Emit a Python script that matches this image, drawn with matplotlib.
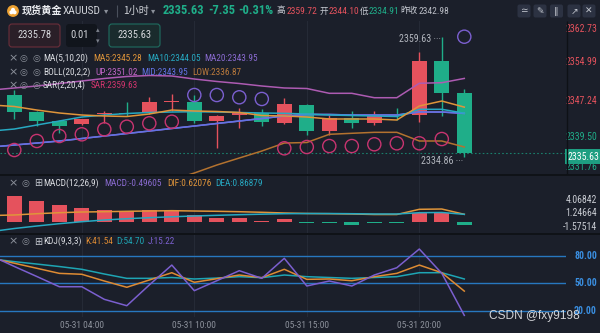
import numpy as np
import matplotlib
matplotlib.use('Agg')
import matplotlib.pyplot as plt
from matplotlib import font_manager as fm
from matplotlib.patches import FancyBboxPatch, Circle

# ---------------- data ----------------
times = ['01:00', '02:00', '03:00', '04:00', '06:00', '07:00', '08:00', '09:00', '10:00', '11:00',
         '12:00', '13:00', '14:00', '15:00', '16:00', '17:00', '18:00', '19:00', '20:00', '21:00', '22:00']
opens = [2347.60, 2344.03, 2342.23, 2341.55, 2343.60, 2343.95, 2343.82, 2346.15, 2346.22, 2342.30,
         2343.53, 2343.82, 2341.76, 2345.54, 2340.17, 2342.92, 2341.76, 2343.30, 2343.47, 2354.62, 2347.95]
highs = [2348.63, 2344.20, 2342.40, 2342.75, 2344.36, 2346.09, 2347.25, 2347.90, 2347.60, 2343.40,
         2344.86, 2344.65, 2346.92, 2345.70, 2343.47, 2344.30, 2344.36, 2344.86, 2356.54, 2359.63, 2348.78]
lows = [2342.58, 2341.26, 2339.70, 2341.40, 2341.76, 2343.33, 2343.60, 2344.20, 2341.90, 2336.60,
        2340.73, 2341.26, 2341.55, 2339.34, 2339.34, 2340.73, 2341.41, 2342.44, 2342.09, 2343.33, 2334.86]
closes = [2344.15, 2342.30, 2341.20, 2342.59, 2343.80, 2343.62, 2346.09, 2346.30, 2342.30, 2343.33,
          2343.82, 2342.09, 2345.68, 2340.23, 2342.79, 2341.88, 2343.47, 2343.20, 2354.62, 2348.08, 2335.63]

# indicator series start one bar before the first visible candle (off-screen on the left)
ma5 = [2345.54, 2345.23, 2344.50, 2343.89, 2343.47, 2343.27, 2343.16, 2343.68, 2344.50, 2344.30, 2344.20,
       2343.99, 2343.37, 2343.27, 2343.06, 2342.65, 2342.65, 2342.65, 2342.44, 2345.33, 2346.36, 2345.10]
ma10 = [2340.17, 2340.58, 2341.41, 2342.23, 2343.06, 2343.47, 2343.78, 2343.99, 2344.09, 2344.15, 2344.09,
        2343.99, 2343.89, 2343.82, 2343.68, 2343.47, 2343.37, 2343.27, 2343.16, 2344.65, 2344.65, 2343.85]
ma20 = [2336.87, 2337.28, 2337.69, 2338.11, 2338.62, 2339.14, 2339.65, 2340.17, 2340.69, 2341.20, 2341.72,
        2342.23, 2342.75, 2343.27, 2343.58, 2343.58, 2343.47, 2343.47, 2343.47, 2344.09, 2344.09, 2343.80]
boll_mid = ma20
boll_up = [2348.63, 2349.05, 2349.46, 2349.97, 2350.49, 2351.01, 2351.42, 2351.63, 2351.52, 2350.90, 2350.39,
           2349.97, 2349.46, 2349.05, 2348.94, 2347.95, 2347.95, 2347.04, 2347.04, 2350.02, 2350.14, 2351.02]
boll_low = [2321.39, 2322.21, 2323.04, 2323.86, 2324.90, 2325.93, 2327.17, 2328.61, 2330.06, 2331.50, 2333.15,
            2334.60, 2336.04, 2337.69, 2337.80, 2339.49, 2339.70, 2339.90, 2339.90, 2338.11, 2338.11, 2336.87]
sar = [2336.25, 2338.11, 2339.14, 2339.49, 2340.52, 2341.06, 2341.76, 2342.09, 2347.60, 2347.60, 2347.13,
       2346.78, 2336.60, 2336.87, 2337.07, 2337.07, 2337.43, 2337.63, 2337.63, 2338.52, 2359.63]

macd_hist = [5.43, 4.37, 3.52, 2.82, 2.47, 2.26, 2.47, 2.33, 1.35, 0.85, 0.71, 0.15, 0.50,
             -0.35, -0.35, -0.70, -0.35, -0.20, 1.90, 1.90, -0.70]
dif = [1.31, 1.42, 1.69, 1.90, 2.05, 2.11, 2.20, 2.26, 2.33, 2.26, 2.20, 2.11, 1.99, 1.84, 1.73, 1.69,
       1.63, 1.52, 1.52, 2.62, 2.68, 1.56]
dea = [-2.07, -1.44, -0.91, -0.42, 0.00, 0.36, 0.63, 0.85, 1.04, 1.21, 1.35, 1.48, 1.59, 1.69, 1.73, 1.73,
       1.69, 1.63, 1.63, 1.90, 1.95, 1.56]

kdj_k = [77.2, 71.8, 66.3, 60.8, 59.8, 52.5, 45.7, 53.6, 61.5, 51.1, 55.0, 59.0, 56.1, 65.2, 54.3, 54.7,
         52.8, 57.2, 60.8, 69.8, 61.5, 41.54]
kdj_d = [76.5, 73.5, 70.9, 68.2, 65.2, 60.1, 55.4, 55.4, 56.3, 54.7, 55.7, 57.2, 56.1, 59.0, 57.2, 56.3,
         55.4, 56.3, 57.2, 61.5, 61.5, 54.70]
kdj_j = [79.6, 68.3, 57.4, 46.3, 46.3, 32.6, 25.7, 48.2, 69.8, 42.0, 52.8, 63.7, 55.4, 77.1, 47.1, 52.5,
         47.1, 59.0, 66.9, 87.2, 60.8, 15.22]

prev_close = 2342.98
price_ticks = [2362.73, 2354.99, 2347.24, 2339.50, 2331.76]
macd_ticks = [4.06842, 1.24664, -1.57514]
kdj_levels = [80, 50, 20]
time_tick_hours = ['04:00', '10:00', '15:00', '20:00']
date_str = '05-31'

# ---------------- fonts / colours ----------------
avail = {f.name for f in fm.fontManager.ttflist}
NUM, NS = 'Liberation Sans', 0.84
for cand in ['Liberation Sans Narrow', 'Roboto Condensed']:
    if cand in avail:
        NUM, NS = cand, 1.0
        break
CJK = ['Noto Sans CJK SC', 'DejaVu Sans']
SYM = 'DejaVu Sans'

BG = '#1b1f2a'; SEP = '#0e1116'; GRID = '#252a36'
RED = '#e5525d'; GREEN = '#1fae89'
C_MA5 = '#e0953a'; C_MA10 = '#27a9c2'; C_MA20 = '#8a6bd1'
C_UP = '#ad5bb2'; C_MID = '#6272e4'; C_LOW = '#b3722f'
C_SAR_UP = '#c83470'; C_SAR_DN = '#7b5fd0'
C_K = '#de8b33'; C_D = '#1ea5b4'; C_J = '#7b5fcf'
C_LVL = '#2777bf'
TXT = '#dadce1'; GREY = '#8b909a'

W, H = 600, 333
fig = plt.figure(figsize=(W / 100, H / 100), dpi=100)
fig.patch.set_facecolor(BG)


def rect(x0, y0, x1, y1):
    return [x0 / W, 1 - y1 / H, (x1 - x0) / W, (y1 - y0) / H]


ax = fig.add_axes(rect(0, 21, 566, 174))
axm = fig.add_axes(rect(0, 175, 566, 233), sharex=ax)
axk = fig.add_axes(rect(0, 234, 566, 317), sharex=ax)
for a in (ax, axm, axk):
    a.set_facecolor(BG)
    for s in a.spines.values():
        s.set_visible(False)
    a.tick_params(left=False, right=False, bottom=False, top=False,
                  labelleft=False, labelbottom=False)

n = len(opens)
idx = np.arange(n)
lx = np.arange(-1, n)

ax.set_xlim(-0.636, 24.52)
ax.set_ylim(2331.30, 2362.87)
axm.set_ylim(-2.389, 9.873)
axk.set_ylim(13.45, 103.5)

tick_idx = [times.index(t) for t in time_tick_hours]
for a in (ax, axm, axk):
    for t in tick_idx:
        a.axvline(t, color=GRID, lw=0.8, zorder=0)
axk.set_xticks(tick_idx)
axk.set_xticklabels([f'{date_str} {times[t]}' for t in tick_idx])
axk.tick_params(axis='x', labelbottom=True, length=0, pad=3, labelsize=6.8 * NS, labelcolor=GREY)
for lab in axk.get_xticklabels():
    lab.set_family(NUM)

# ---------------- main pane ----------------
o = np.array(opens); c = np.array(closes); h = np.array(highs); l = np.array(lows)
cols = np.where(c >= o, RED, GREEN)
ax.axhline(closes[-1], color='#1a7f6c', lw=0.8, ls=(0, (1.5, 2)), zorder=1)
ax.vlines(idx, l, h, colors=cols, lw=1.0, zorder=2)
ax.bar(idx, np.maximum(np.abs(c - o), 0.2), bottom=np.minimum(o, c), width=0.66,
       color=cols, linewidth=0, zorder=3)
ax.plot(lx, boll_up, color=C_UP, lw=1.1, zorder=4)
ax.plot(lx, boll_low, color=C_LOW, lw=1.1, zorder=4)
ax.plot(lx, ma20, color=C_MA20, lw=1.1, zorder=4)
ax.plot(lx, boll_mid, color=C_MID, lw=1.1, zorder=4)
ax.plot(lx, ma10, color=C_MA10, lw=1.1, zorder=4)
ax.plot(lx, ma5, color=C_MA5, lw=1.1, zorder=4)
sar_a = np.array(sar)
ax.scatter(idx, sar_a, s=90, facecolors='none',
           edgecolors=np.where(sar_a > c, C_SAR_DN, C_SAR_UP), linewidths=1.0, zorder=5)

imax = int(np.argmax(h)); imin = int(np.argmin(l))
ax.annotate(f'{h[imax]:.2f} \u00b7\u00b7\u00b7', xy=(imax, h[imax]), xytext=(-1, -2.6),
            textcoords='offset pixels', ha='right', va='center', color='#b2b6be',
            fontsize=7.2 * NS, family=NUM, zorder=6)
ax.annotate(f'{l[imin]:.2f} \u00b7\u00b7\u00b7', xy=(imin, l[imin]), xytext=(-1, -4.3),
            textcoords='offset pixels', ha='right', va='center', color='#b2b6be',
            fontsize=7.2 * NS, family=NUM, zorder=6)


def rlabel(a, v, txt, color, dy, weight='normal', dx=31):
    a.annotate(txt, xy=(1, v), xycoords=('axes fraction', 'data'), xytext=(dx, dy),
               textcoords='offset pixels', ha='right', va='center', color=color,
               fontsize=7.0 * NS, family=NUM, fontweight=weight, annotation_clip=False)


price_lab_dy = [-7.6, -2.5, -4.0, -3.0, 4.5]
for v, dy in zip(price_ticks, price_lab_dy):
    rlabel(ax, v, f'{v:.2f}', RED if v > prev_close else GREEN, dy)
ax.annotate(f'{closes[-1]:.2f}', xy=(1, closes[-1]), xycoords=('axes fraction', 'data'),
            xytext=(17, -3.5), textcoords='offset pixels', ha='center', va='center',
            color='white', fontsize=7.0 * NS, family=NUM, annotation_clip=False, zorder=7,
            bbox=dict(boxstyle='square,pad=0.25', fc='#1e9f82', ec='none'))

# ---------------- MACD pane ----------------
mh = np.array(macd_hist)
axm.bar(idx, mh, width=0.66, color=np.where(mh >= 0, RED, GREEN), linewidth=0, zorder=2)
axm.plot(lx, dif, color=C_MA5, lw=1.1, zorder=3)
axm.plot(lx, dea, color=C_MA10, lw=1.1, zorder=3)
for v in macd_ticks:
    rlabel(axm, v, f'{v:.5f}', '#c9ccd3', 2.5)

# ---------------- KDJ pane ----------------
for lv in kdj_levels:
    axk.axhline(lv, color=C_LVL, lw=1.0, zorder=1)
    rlabel(axk, lv, f'{lv:.2f}', '#3a8ee0', 0, weight='bold')
axk.plot(lx, kdj_d, color=C_D, lw=1.1, zorder=3)
axk.plot(lx, kdj_k, color=C_K, lw=1.1, zorder=3)
axk.plot(lx, kdj_j, color=C_J, lw=1.1, zorder=3)

# ---------------- overlay: header, legends, separators ----------------
ov = fig.add_axes([0, 0, 1, 1], zorder=10)
ov.set_xlim(0, W); ov.set_ylim(H, 0); ov.axis('off')

ov.hlines([174.5, 233.5], 0, W, color=SEP, lw=1.3)
ov.vlines(566.5, 21, 174, color=SEP, lw=1.0)


def T(x, y, s, color=TXT, size=7.2, family=None, weight='normal', ha='left'):
    fam = family if family is not None else NUM
    sz = size * NS if fam == NUM else size
    ov.text(x, y, s, color=color, fontsize=sz, family=fam, fontweight=weight,
            ha=ha, va='center')


# coin icon
ov.add_patch(Circle((13, 11), 5.2, color='#eea232'))
for (dx, dy) in [(-1.6, 1.3), (1.6, 1.3), (0, -1.2)]:
    ov.add_patch(Circle((13 + dx, 11 + dy), 1.3, color='white'))
T(21.5, 11, '现货黄金', '#eceef2', 7.3, CJK, 'bold')
T(63, 11, 'XAUUSD', '#cfd2d8', 8.2)
T(104, 11, '\u25be', GREY, 6, SYM)
ov.vlines(117, 5, 17, color='#4a505c', lw=0.8)
T(123, 11, '1小时', '#cfd2d8', 7.3, CJK)
T(151, 11, '\u25be', GREY, 6, SYM)
T(163, 11, '2335.63', GREEN, 9.0, weight='bold')
T(208, 11, '-7.35', GREEN, 9.0, weight='bold')
T(238, 11, '-0.31%', GREEN, 9.0, weight='bold')
T(276.5, 11, '高', '#c8ccd4', 6.2, CJK)
T(286.5, 11, '2359.72', RED, 6.8)
T(319.5, 11, '开', '#c8ccd4', 6.2, CJK)
T(329, 11, '2344.10', RED, 6.8)
T(359.5, 11, '低', '#c8ccd4', 6.2, CJK)
T(369, 11, '2334.91', GREEN, 6.8)
T(400, 11, '昨收', '#c8ccd4', 6.2, CJK)
T(419, 11, '2342.98', '#b9bcc4', 6.8)

icons = ['\u2243', '\u270e', '\u2016', '\u2197', '\u2715']
for cx, g in zip([524, 540, 556.5, 574, 589], icons):
    ov.add_patch(FancyBboxPatch((cx - 6.5, 4.5), 13, 13, boxstyle='round,pad=0,rounding_size=2',
                                fc='#2c3242', ec='none'))
    T(cx, 11, g, '#c4c8d0', 6.5, SYM, ha='center')

# order boxes
ov.add_patch(FancyBboxPatch((9, 24), 51, 23, boxstyle='round,pad=0,rounding_size=3',
                            fc='#2a1f28', ec='#6b2e3a', lw=0.8))
T(34.5, 35.5, '2335.78', '#d5d7dc', 7.6, ha='center')
ov.add_patch(FancyBboxPatch((66, 24), 31, 23, boxstyle='round,pad=0,rounding_size=3',
                            fc='#11151c', ec='none'))
T(70, 35.5, '0.01', '#d5d7dc', 7.6)
T(97.5, 30, '\u25b4', '#7d828c', 5, SYM, ha='center')
T(97.5, 41, '\u25be', '#7d828c', 5, SYM, ha='center')
ov.add_patch(FancyBboxPatch((109, 24), 51, 23, boxstyle='round,pad=0,rounding_size=3',
                            fc='#1a2b2d', ec='#1f6d60', lw=0.8))
T(134.5, 35.5, '2335.63', '#d5d7dc', 7.6, ha='center')


def legend_row(y, items, box=False):
    T(12.7, y, '\u00d7', GREY, 8, SYM, ha='center')
    if box:
        T(25.5, y, '\u25ce', GREY, 6.5, SYM, ha='center')
        T(38, y, '\u229e', '#c4c8d0', 7, SYM, ha='center')
    else:
        T(23.3, y, '\u25ce', GREY, 6.5, SYM, ha='center')
        T(36, y, '\u25ce', GREY, 6.5, SYM, ha='center')
    for x, s, col in items:
        T(x, y, s, col, 6.7)


legend_row(58.3, [(43, 'MA(5,10,20)', TXT), (93, 'MA5:2345.28', C_MA5),
                  (147, 'MA10:2344.05', C_MA10), (204, 'MA20:2343.95', C_MA20)])
legend_row(72.3, [(43, 'BOLL(20,2,2)', TXT), (95, 'UP:2351.02', '#c266c8'),
                  (141, 'MID:2343.95', C_MID), (192, 'LOW:2336.87', '#bb7a3c')])
legend_row(85.7, [(43, 'SAR(2,20,4)', TXT), (91, 'SAR:2359.63', '#d4356e')])
legend_row(183.3, [(43, 'MACD(12,26,9)', TXT), (104, 'MACD:-0.49605', C_MA20),
                   (167, 'DIF:0.62076', C_MA5), (215, 'DEA:0.86879', C_MA10)], box=True)
legend_row(241.7, [(43, 'KDJ(9,3,3)', TXT), (85, 'K:41.54', C_K),
                   (116, 'D:54.70', C_D), (148, 'J:15.22', C_J)], box=True)

ov.text(489, 316.5, 'CSDN @fxy9198', color='#e6e7ea', fontsize=8.6, family='Liberation Sans',
        ha='left', va='center', alpha=0.9)

fig.savefig('out.png', dpi=100, facecolor=BG)
